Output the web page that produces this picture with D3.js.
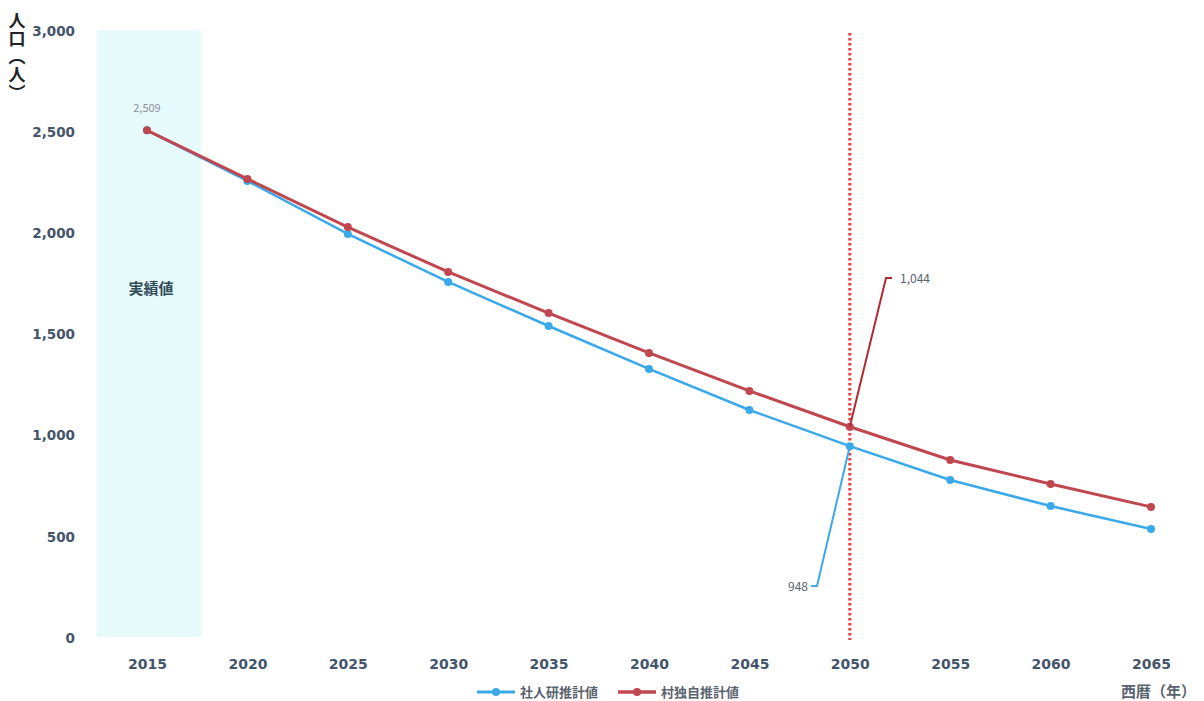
<!DOCTYPE html>
<html>
<head>
<meta charset="utf-8">
<script src="https://cdn.jsdelivr.net/npm/d3@7"></script>
<style>
  body { margin: 0; background: #fff; }
  svg { font-family: "Noto Sans CJK JP", "Noto Sans", sans-serif; }
</style>
</head>
<body>
<div class="chart"></div>
<script>
// data
const years = [2015, 2020, 2025, 2030, 2035, 2040, 2045, 2050, 2055, 2060, 2065];
const ipssValues = [2509, 2259, 1997, 1760, 1542, 1330, 1127, 948, 781, 652, 539];
const villageValues = [2509, 2269, 2031, 1809, 1606, 1409, 1221, 1044, 880, 761, 648];
const yTicks = [0, 500, 1000, 1500, 2000, 2500, 3000];
const seriesNames = ["社人研推計値", "村独自推計値"];

const width = 1204, height = 701;

const svg = d3.select(".chart")
  .append("svg")
  .attr("width", width)
  .attr("height", height);

const x = d3.scaleLinear().domain([2015, 2065]).range([147, 1151]);
const y = d3.scaleLinear().domain([0, 3000]).range([638, 31]);

// shaded "actual" band
svg.append("rect")
  .attr("x", x(2012.5))
  .attr("y", y(3000) - 1)
  .attr("width", x(2017.7) - x(2012.5))
  .attr("height", y(0) - y(3000))
  .attr("fill", "#e6f9fb");

svg.append("text")
  .attr("x", x(2015) + 4)
  .attr("y", y(1700))
  .attr("text-anchor", "middle")
  .attr("font-size", 15)
  .attr("font-weight", "bold")
  .attr("fill", "#2f4a58")
  .text("実績値");

// y axis labels
const yAxis = svg.append("g")
  .attr("transform", "translate(78,0)")
  .call(d3.axisLeft(y).tickValues(yTicks).tickSize(0).tickFormat(d3.format(",")));
yAxis.select(".domain").remove();
yAxis.selectAll("text")
  .attr("font-size", 13.5)
  .attr("font-weight", "bold")
  .attr("fill", "#44546a")
  .attr("font-family", "'DejaVu Sans', sans-serif");

// x axis labels
const xAxis = svg.append("g")
  .attr("transform", "translate(0,656)")
  .call(d3.axisBottom(x).tickValues(years).tickSize(0).tickFormat(d3.format("d")));
xAxis.select(".domain").remove();
xAxis.selectAll("text")
  .attr("font-size", 14)
  .attr("font-weight", "bold")
  .attr("fill", "#44546a")
  .attr("font-family", "'DejaVu Sans', sans-serif");

// axis titles
svg.append("text")
  .attr("x", 17)
  .attr("y", 12)
  .attr("writing-mode", "vertical-rl")
  .attr("font-size", 17)
  .attr("font-weight", "bold")
  .attr("letter-spacing", 1)
  .attr("fill", "#222")
  .text("人口（人）");

svg.append("text")
  .attr("x", 1196)
  .attr("y", 697)
  .attr("text-anchor", "end")
  .attr("font-size", 15)
  .attr("font-weight", "bold")
  .attr("fill", "#59636e")
  .text("西暦（年）");

// dotted 2050 marker
svg.append("line")
  .attr("x1", x(2050)).attr("x2", x(2050))
  .attr("y1", 33).attr("y2", 640)
  .attr("stroke", "#f03a3a")
  .attr("stroke-width", 3)
  .attr("stroke-dasharray", "2.5,2.5");

const line = d3.line()
  .x(function (d) { return x(d[0]); })
  .y(function (d) { return y(d[1]); });

const series = [
  { name: seriesNames[0], values: ipssValues, color: "#3aa9ea", width: 2.5 },
  { name: seriesNames[1], values: villageValues, color: "#c0474f", width: 3 }
];

series.forEach(function (s) {
  const pts = years.map(function (yr, i) { return [yr, s.values[i]]; });
  svg.append("path")
    .datum(pts)
    .attr("fill", "none")
    .attr("stroke", s.color)
    .attr("stroke-width", s.width)
    .attr("d", line);
  svg.append("g")
    .selectAll("circle")
    .data(pts)
    .enter()
    .append("circle")
    .attr("cx", function (d) { return x(d[0]); })
    .attr("cy", function (d) { return y(d[1]); })
    .attr("r", 4)
    .attr("fill", s.color);
});

// 2015 point label
svg.append("text")
  .attr("x", x(2015))
  .attr("y", y(2509) - 18)
  .attr("text-anchor", "middle")
  .attr("font-size", 11)
  .attr("fill", "#8a9099")
  .text("2,509");

// 2050 callouts
const i2050 = years.indexOf(2050);
svg.append("path")
  .attr("d", `M${x(2050)},${y(villageValues[i2050])} L886,278 L892,278`)
  .attr("fill", "none")
  .attr("stroke", "#b22a30")
  .attr("stroke-width", 2);
svg.append("text")
  .attr("x", 900)
  .attr("y", 283)
  .attr("font-size", 12)
  .attr("fill", "#5a6470")
  .text(d3.format(",")(villageValues[i2050]));

svg.append("path")
  .attr("d", `M${x(2050)},${y(ipssValues[i2050])} L817,586 L811,586`)
  .attr("fill", "none")
  .attr("stroke", "#3aa9ea")
  .attr("stroke-width", 2);
svg.append("text")
  .attr("x", 808)
  .attr("y", 591)
  .attr("text-anchor", "end")
  .attr("font-size", 12)
  .attr("fill", "#5a6470")
  .text(d3.format(",")(ipssValues[i2050]));

// legend
const legend = svg.append("g").attr("transform", "translate(477,692)");
series.forEach(function (s, i) {
  const g = legend.append("g").attr("transform", `translate(${i * 141},0)`);
  g.append("line")
    .attr("x1", 0).attr("x2", 38)
    .attr("stroke", s.color)
    .attr("stroke-width", s.width + 0.5);
  g.append("circle").attr("cx", 19).attr("r", 4).attr("fill", s.color);
  g.append("text")
    .attr("x", 43)
    .attr("y", 5)
    .attr("font-size", 13)
    .attr("font-weight", "bold")
    .attr("fill", "#59636e")
    .text(s.name);
});
</script>
</body>
</html>
